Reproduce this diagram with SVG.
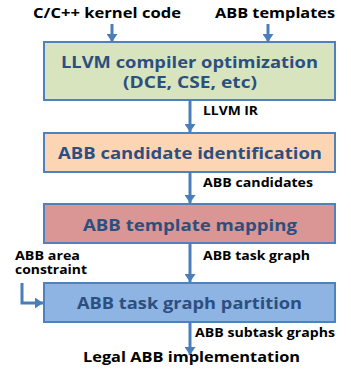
<svg xmlns="http://www.w3.org/2000/svg" width="351" height="371" viewBox="0 0 351 371">
<defs>
<marker id="ah" viewBox="0 0 8 11" refX="8" refY="5.5" markerWidth="8" markerHeight="11" orient="auto" markerUnits="userSpaceOnUse"><path d="M0,0 L8,5.5 L0,11 z" fill="#4A7EBB"/></marker>
<style>
.box{stroke:#4F81BD;stroke-width:2}
.bt{font-family:"Open Sans","DejaVu Sans",sans-serif;font-weight:bold;font-size:15.5px;fill:#2C4F7F;lengthAdjust:spacingAndGlyphs}
.lb{font-family:"Open Sans","DejaVu Sans",sans-serif;font-weight:bold;font-size:11.5px;fill:#000}
.tl{font-family:"Open Sans","DejaVu Sans",sans-serif;font-weight:bold;font-size:14px;fill:#000}
.c{stroke:#4A7EBB;stroke-width:3;fill:none;marker-end:url(#ah)}
</style>
</defs>
<text class="tl" x="33" y="18" textLength="148" lengthAdjust="spacingAndGlyphs">C/C++ kernel code</text>
<text class="tl" x="215" y="18" textLength="120" lengthAdjust="spacingAndGlyphs">ABB templates</text>
<g id="n1"><rect class="box" x="44" y="42" width="291" height="58" fill="#D7E4BD"/>
<text class="bt" x="61" y="68" textLength="257" lengthAdjust="spacingAndGlyphs">LLVM compiler optimization</text>
<text class="bt" x="123" y="88" textLength="134" lengthAdjust="spacingAndGlyphs">(DCE, CSE, etc)</text></g>
<g id="n2"><rect class="box" x="44" y="133" width="291" height="39" fill="#FCD5B5"/>
<text class="bt" x="58" y="159" textLength="264" lengthAdjust="spacingAndGlyphs">ABB candidate identification</text></g>
<g id="n3"><rect class="box" x="44" y="204" width="291" height="39" fill="#D99694"/>
<text class="bt" x="83" y="231" textLength="214" lengthAdjust="spacingAndGlyphs">ABB template mapping</text></g>
<g id="n4"><rect class="box" x="44" y="283" width="291" height="39" fill="#8EB4E3"/>
<text class="bt" x="77" y="309" textLength="225" lengthAdjust="spacingAndGlyphs">ABB task graph partition</text></g>
<g id="connectors">
<path class="c" d="M112,24 V42"/>
<path class="c" d="M268,24 V42"/>
<path class="c" d="M190,100 V132"/>
<path class="c" d="M190,172 V203"/>
<path class="c" d="M190,243 V282"/>
<path class="c" d="M190,322 V355"/>
<path class="c" d="M22,283 V303 H43"/>
</g>
<text class="lb" x="203" y="115" textLength="55" lengthAdjust="spacingAndGlyphs">LLVM IR</text>
<text class="lb" x="203" y="187" textLength="110" lengthAdjust="spacingAndGlyphs">ABB candidates</text>
<text class="lb" x="203" y="260" textLength="107" lengthAdjust="spacingAndGlyphs">ABB task graph</text>
<text class="lb" x="15" y="260" textLength="65" lengthAdjust="spacingAndGlyphs">ABB area</text>
<text class="lb" x="15" y="274" textLength="72" lengthAdjust="spacingAndGlyphs">constraint</text>
<text class="lb" x="195" y="337" textLength="140" lengthAdjust="spacingAndGlyphs">ABB subtask graphs</text>
<text class="tl" x="83" y="362" textLength="217" lengthAdjust="spacingAndGlyphs">Legal ABB implementation</text>
</svg>
